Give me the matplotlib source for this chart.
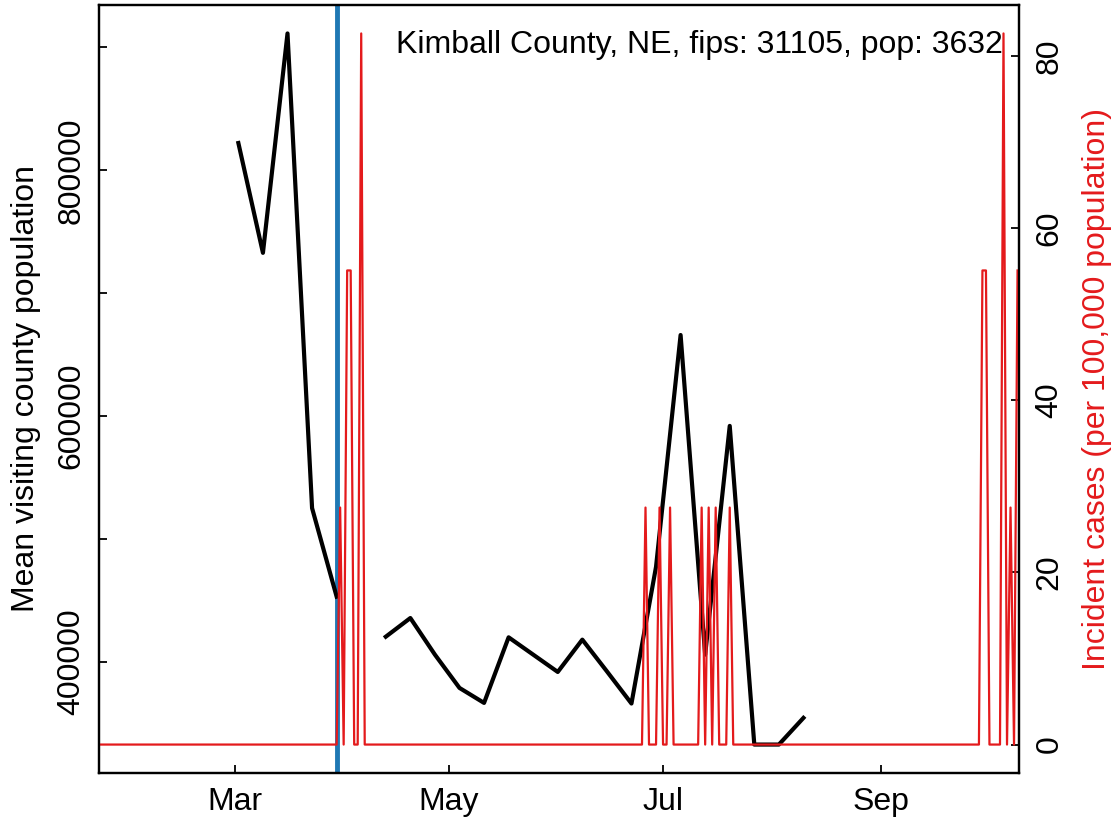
import numpy as np
import pandas as pd
import matplotlib
matplotlib.use("Agg")
import matplotlib.pyplot as plt

plt.rcParams['font.family'] = ['Liberation Sans', 'DejaVu Sans']

# weekly mean visiting county population (black)
week_dates = ['2020-03-02', '2020-03-09', '2020-03-16', '2020-03-23', '2020-03-30',
              '2020-04-06', '2020-04-13', '2020-04-20', '2020-04-27', '2020-05-04',
              '2020-05-11', '2020-05-18', '2020-05-25', '2020-06-01', '2020-06-08',
              '2020-06-15', '2020-06-22', '2020-06-29', '2020-07-06', '2020-07-13',
              '2020-07-20', '2020-07-27', '2020-08-03', '2020-08-10']
visit_pop = [822200, 732800, 911400, 525000, 452900,
             np.nan, 420300, 435500, 405700, 378600,
             366400, 419800, 405700, 391600, 417900,
             392100, 365900, 477200, 665900, 405700,
             591900, 332500, 332500, 354200]

# daily incident cases per 100k (red), zero except on these days
case_start = '2020-01-22'
case_end = '2020-10-10'
spike_dates = ['2020-03-31', '2020-04-02', '2020-04-03', '2020-04-06',
               '2020-06-26', '2020-06-30', '2020-07-03', '2020-07-12',
               '2020-07-14', '2020-07-16', '2020-07-20',
               '2020-09-30', '2020-10-01', '2020-10-06', '2020-10-08', '2020-10-10']
spike_vals = [27.53, 55.07, 55.07, 82.60,
              27.53, 27.53, 27.53, 27.53,
              27.53, 27.53, 27.53,
              55.07, 55.07, 82.60, 27.53, 55.07]

intervention_date = '2020-03-30'
tick_dates = ['2020-03-01', '2020-05-01', '2020-07-01', '2020-09-01']
tick_names = ['Mar', 'May', 'Jul', 'Sep']
title = "Kimball County, NE, fips: 31105, pop: 3632"

red = '#E41A1C'
fs = 23

week_x = pd.to_datetime(week_dates)
case_x = pd.date_range(case_start, case_end, freq='D')
cases = pd.Series(0.0, index=case_x)
cases[pd.to_datetime(spike_dates)] = spike_vals

fig = plt.figure(figsize=(11.19, 8.22), dpi=100)
ax = fig.add_axes([99 / 1119, 49 / 822, 920 / 1119, 768 / 822])
ax2 = ax.twinx()

ax.axvline(pd.Timestamp(intervention_date), color='#1F78B4', lw=3.5, zorder=1)
ax.plot(week_x, visit_pop, color='black', lw=3.0, zorder=2)
ax2.plot(cases.index, cases.values, color=red, lw=1.6)

# R style 4% padding on y
vmin, vmax = np.nanmin(visit_pop), np.nanmax(visit_pop)
pad = 0.04 * (vmax - vmin)
ax.set_ylim(vmin - pad, vmax + pad)
cmax = max(spike_vals)
ax2.set_ylim(-0.04 * cmax, cmax * 1.04)
ax.set_xlim(pd.Timestamp('2020-01-22 07:00'), pd.Timestamp('2020-10-10 10:00'))

ax.set_xticks(pd.to_datetime(tick_dates))
ax.set_xticklabels(tick_names, fontsize=fs)
ax.set_yticks([400000, 500000, 600000, 700000, 800000, 900000])
ax.set_yticklabels(['400000', '', '600000', '', '800000', ''],
                   fontsize=fs, rotation=90, va='center')
ax2.set_yticks([0, 20, 40, 60, 80])
ax2.set_yticklabels(['0', '20', '40', '60', '80'], fontsize=fs, rotation=90, va='center')

for a in (ax, ax2):
    a.tick_params(direction='in', length=6, width=1.3)
    for s in a.spines.values():
        s.set_linewidth(1.6)
ax.tick_params(axis='x', pad=10)
ax.tick_params(axis='y', pad=9)
ax2.tick_params(axis='y', pad=11)

ax.set_ylabel('Mean visiting county population', fontsize=fs, labelpad=11)
ax2.set_ylabel('Incident cases (per 100,000 population)', fontsize=fs, color=red, labelpad=13)

ax.text(0.9826, 0.948, title, transform=ax.transAxes, ha='right', va='center', fontsize=fs)

fig.savefig('out.png', dpi=100)
